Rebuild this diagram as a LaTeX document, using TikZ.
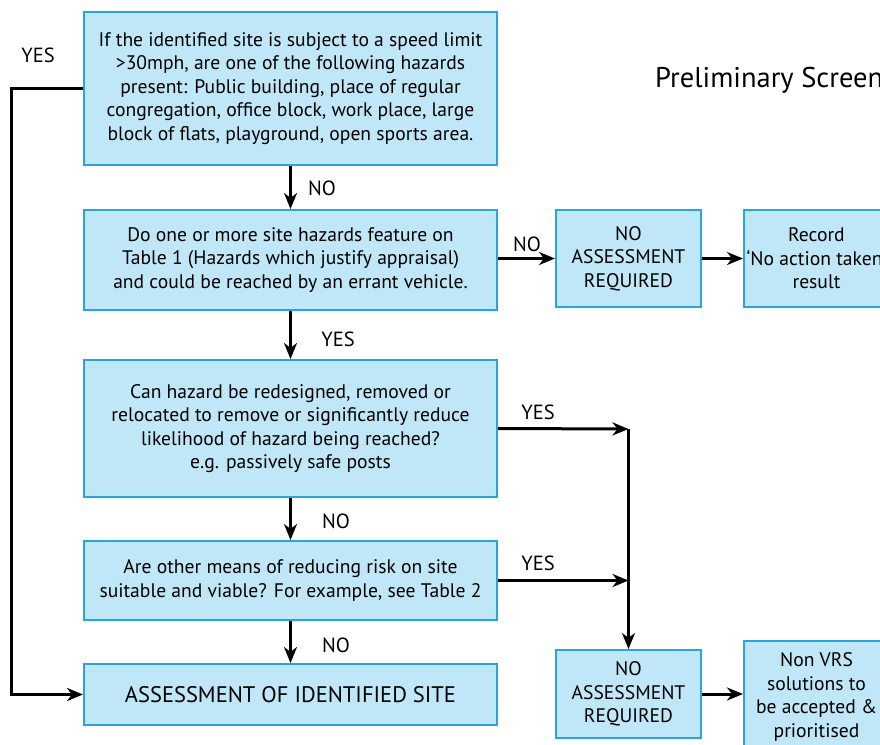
\documentclass[tikz,border=0pt]{standalone}
\usepackage{fontspec}
\setmainfont{PT Sans}
\usetikzlibrary{arrows.meta}
\definecolor{boxfill}{RGB}{192,231,247}
\definecolor{boxline}{RGB}{38,166,220}
\begin{document}
\begin{tikzpicture}[x=1pt,y=-1pt,
  box/.style={draw=boxline, fill=boxfill, line width=2pt, inner sep=0pt, align=center,
    font=\fontsize{19.6}{23.6}\selectfont},
  arr/.style={line width=3pt, -{Stealth[length=16pt,width=13pt,inset=5pt]}},
  lbl/.style={font=\fontsize{20.5}{22}\selectfont, inner sep=0pt}]
\useasboundingbox (0,0) rectangle (880,744);
\clip (0,0) rectangle (880,744);
\fill[white] (0,0) rectangle (880,744);

\node[box, minimum width=413pt, minimum height=153pt] (b1) at (290.5,88.5)
  {If the identified site is subject to a speed limit\\ >30mph, are one of the following hazards\\ present: Public building, place of regular\\ congregation, office block, work place, large\\ block of flats, playground, open sports area.};
\node[box, minimum width=413pt, minimum height=100pt] (b2) at (290.5,260)
  {Do one or more site hazards feature on\\ Table 1 (Hazards which justify appraisal)\\ and could be reached by an errant vehicle.};
\node[box, minimum width=413pt, minimum height=137pt] (b3) at (290.5,428.5)
  {Can hazard be redesigned, removed or\\ relocated to remove or significantly reduce\\ likelihood of hazard being reached?\\ e.g. passively safe posts};
\node[box, minimum width=413pt, minimum height=79pt] (b4) at (290.5,580.5)
  {Are other means of reducing risk on site\\ suitable and viable? For example, see Table 2};
\node[box, minimum width=413pt, minimum height=61pt, font=\fontsize{22.5}{26}\selectfont] (b5) at (290.5,694.5)
  {ASSESSMENT OF IDENTIFIED SITE};
\node[box, minimum width=145pt, minimum height=97pt] (na1) at (628.5,258.5)
  {NO\\ ASSESSMENT\\ REQUIRED};
\node[box, minimum width=145pt, minimum height=97pt] (rec) at (816.5,258.5)
  {Record\\ `No action taken'\\ result};
\node[box, minimum width=145pt, minimum height=88pt] (na2) at (628.5,694)
  {NO\\ ASSESSMENT\\ REQUIRED};
\node[box, minimum width=145pt, minimum height=112pt] (nvrs) at (816.5,697)
  {Non VRS\\ solutions to\\ be accepted \&\\ prioritised};

\node[anchor=west, inner sep=0pt, font=\fontsize{28.5}{31}\selectfont] (title) at (655,80) {Preliminary Screening};

\coordinate (j1) at (628.5,429);
\coordinate (j2) at (628.5,580.5);

\draw[arr] (b1.south) -- (b2.north);
\draw[arr] (b2.south) -- (b3.north);
\draw[arr] (b3.south) -- (b4.north);
\draw[arr] (b4.south) -- (b5.north);
\draw[arr] (na1.west -| b2.east) -- (na1.west);
\draw[arr] (na1.east) -- (rec.west);
\draw[arr] (na2.east) -- (na2.east -| nvrs.west);
\draw[arr] (b3.east) -- (j1);
\draw[arr] (b4.east) -- (j2);
\draw[arr] (j1) -- (na2.north);
\draw[arr] (b1.west) -- ++(-72,0) |- (b5.west);

\node[lbl] (l1) at (38,55) {YES};
\node[lbl] (l2) at (322,188) {NO};
\node[lbl] (l3) at (527,244) {NO};
\node[lbl] (l4) at (338,339) {YES};
\node[lbl] (l5) at (538,412) {YES};
\node[lbl] (l6) at (336,521) {NO};
\node[lbl] (l7) at (538,563) {YES};
\node[lbl] (l8) at (336,645) {NO};
\end{tikzpicture}
\end{document}
